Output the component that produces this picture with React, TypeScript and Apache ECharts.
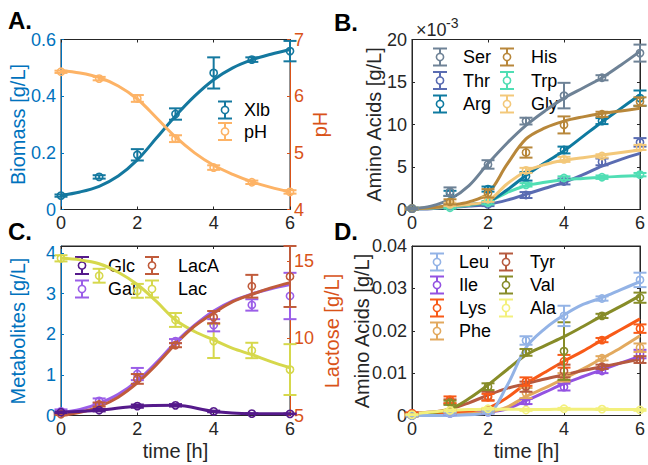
import React, { useEffect, useRef } from 'react';
import * as echarts from 'echarts';

// ---------- data ----------
const TIMES = [0, 1, 2, 3, 4, 5, 6];
const FIT_T = [0, 0.5, 1, 1.5, 2, 2.5, 3, 3.5, 4, 4.5, 5, 5.5, 6];

// Panel A
const XLB_MEAN = [0.049, 0.115, 0.193, 0.337, 0.482, 0.529, 0.559];
const XLB_ERR = [0.004, 0.006, 0.02, 0.02, 0.055, 0.008, 0.036];
const XLB_FIT = [0.05, 0.062, 0.082, 0.118, 0.175, 0.252, 0.33, 0.4, 0.458, 0.5, 0.528, 0.548, 0.565];
const PH_MEAN = [6.43, 6.31, 5.96, 5.25, 4.74, 4.48, 4.31];
const PH_ERR = [0.02, 0.03, 0.06, 0.06, 0.04, 0.03, 0.03];
const PH_FIT = [6.45, 6.41, 6.33, 6.18, 5.95, 5.62, 5.28, 5.0, 4.78, 4.62, 4.49, 4.39, 4.31];

// Panel B (x10^-3 g/L)
const SER_MEAN = [0.1, 2.1, 5.3, 10.4, 13.4, 15.5, 18.4];
const SER_ERR = [0.1, 0.5, 0.5, 0.4, 1.5, 0.3, 1.0];
const SER_FIT = [0.1, 0.4, 1.2, 2.8, 5.4, 7.8, 9.9, 11.6, 13.1, 14.3, 15.5, 17.0, 18.6];
const THR_MEAN = [0.1, 0.4, 0.6, 1.7, 3.3, 5.6, 7.9];
const THR_ERR = [0.1, 0.2, 0.2, 0.35, 0.35, 0.4, 0.5];
const THR_FIT = [0.05, 0.1, 0.25, 0.4, 0.6, 1.1, 1.8, 2.5, 3.2, 4.1, 5.1, 5.9, 6.6];
const ARG_MEAN = [0.1, 1.9, 2.4, 3.9, 7.0, 10.4, 13.1];
const ARG_ERR = [0.1, 0.3, 0.3, 0.5, 0.4, 0.35, 0.9];
const ARG_FIT = [0.1, 0.2, 0.4, 0.6, 0.9, 2.3, 4.0, 5.5, 6.9, 8.6, 10.3, 11.9, 13.5];
const HIS_MEAN = [0.1, 0.9, 1.9, 6.7, 9.95, 11.2, 12.7];
const HIS_ERR = [0.1, 0.3, 0.5, 0.6, 1.0, 0.3, 0.5];
const HIS_FIT = [0.1, 0.2, 0.5, 0.9, 1.9, 5.3, 8.3, 9.6, 10.4, 10.9, 11.3, 11.6, 11.9];
const TRP_MEAN = [0.1, 0.2, 0.8, 2.9, 3.7, 3.8, 4.1];
const TRP_ERR = [0.1, 0.1, 0.2, 0.2, 0.2, 0.2, 0.2];
const TRP_FIT = [0.1, 0.15, 0.3, 0.5, 0.9, 2.0, 2.8, 3.2, 3.5, 3.65, 3.8, 3.9, 4.0];
const GLY_MEAN = [0.1, 0.6, 1.2, 4.6, 5.9, 6.3, 7.3];
const GLY_ERR = [0.1, 0.2, 0.3, 0.3, 0.3, 0.2, 0.3];
const GLY_FIT = [0.1, 0.2, 0.4, 0.6, 1.0, 3.0, 4.5, 5.3, 5.8, 6.1, 6.4, 6.7, 7.0];

// Panel C
const GLC_MEAN = [0.08, 0.13, 0.23, 0.25, 0.1, 0.045, 0.04];
const GLC_ERR = [0.02, 0.03, 0.04, 0.03, 0.02, 0.01, 0.01];
const GAL_MEAN = [0.1, 0.36, 1.02, 1.83, 2.22, 2.72, 2.94];
const GAL_ERR = [0.05, 0.06, 0.15, 0.05, 0.15, 0.14, 0.57];
const GAL_FIT = [0.08, 0.15, 0.3, 0.52, 0.85, 1.3, 1.8, 2.22, 2.57, 2.82, 2.99, 3.12, 3.22];
const LACA_MEAN = [0.03, 0.27, 0.9, 1.73, 2.42, 3.18, 3.42];
const LACA_ERR = [0.02, 0.05, 0.12, 0.05, 0.15, 0.28, 0.75];
const LACA_FIT = [0.0, 0.08, 0.22, 0.45, 0.8, 1.25, 1.76, 2.2, 2.52, 2.8, 2.98, 3.14, 3.27];
const LAC_MEAN = [15.2, 14.07, 13.09, 11.2, 9.83, 9.22, 7.98];
const LAC_ERR = [0.2, 0.45, 0.45, 0.45, 1.1, 0.5, 1.65];
const LAC_FIT = [15.2, 15.1, 14.85, 14.3, 13.5, 12.4, 11.2, 10.45, 9.9, 9.35, 8.95, 8.5, 8.1];

// Panel D
const LEU_MEAN = [0, 0.0005, 0.0008, 0.0177, 0.0235, 0.0276, 0.032];
const LEU_ERR = [0.0002, 0.0003, 0.0003, 0.001, 0.0024, 0.0005, 0.0017];
const LEU_FIT = [0, 0, 0, 0.0002, 0.0006, 0.007, 0.016, 0.0205, 0.0237, 0.0262, 0.0278, 0.0297, 0.0316];
const ILE_MEAN = [0, 0.0005, 0.0008, 0.0033, 0.0067, 0.0105, 0.0145];
const ILE_ERR = [0.0002, 0.0003, 0.0003, 0.0006, 0.0008, 0.0005, 0.001];
const ILE_FIT = [0, 0.0001, 0.0003, 0.0005, 0.0008, 0.0016, 0.0035, 0.0055, 0.0075, 0.0092, 0.0108, 0.0124, 0.014];
const LYS_MEAN = [0.0005, 0.0037, 0.0043, 0.008, 0.0128, 0.0178, 0.0205];
const LYS_ERR = [0.0002, 0.0008, 0.0008, 0.001, 0.0015, 0.0005, 0.001];
const LYS_FIT = [0.0005, 0.0006, 0.0008, 0.0011, 0.0018, 0.0042, 0.0075, 0.0102, 0.0128, 0.0152, 0.0178, 0.0203, 0.0228];
const PHE_MEAN = [0, 0.001, 0.0012, 0.0053, 0.009, 0.0135, 0.016];
const PHE_ERR = [0.0002, 0.0003, 0.0004, 0.0012, 0.001, 0.0005, 0.001];
const PHE_FIT = [0, 0.0001, 0.0003, 0.0005, 0.0008, 0.002, 0.0045, 0.0065, 0.0087, 0.011, 0.0135, 0.016, 0.0188];
const TYR_MEAN = [0.0005, 0.0033, 0.0046, 0.0068, 0.0105, 0.0115, 0.0132];
const TYR_ERR = [0.0002, 0.0005, 0.001, 0.0012, 0.0015, 0.0005, 0.0008];
const TYR_FIT = [0.0005, 0.0008, 0.0015, 0.003, 0.0048, 0.0064, 0.0075, 0.0086, 0.0096, 0.0106, 0.0115, 0.0124, 0.0133];
const VAL_MEAN = [0, 0.003, 0.0068, 0.0149, 0.0152, 0.0235, 0.0278];
const VAL_ERR = [0.0002, 0.0005, 0.0008, 0.0008, 0.0068, 0.0005, 0.0012];
const VAL_FIT = [0, 0.0006, 0.0015, 0.004, 0.0072, 0.0108, 0.0143, 0.0165, 0.0186, 0.021, 0.0235, 0.0258, 0.0283];
const ALA_MEAN = [0.0002, 0.0012, 0.0016, 0.0013, 0.0016, 0.0015, 0.0013];
const ALA_ERR = [0.0001, 0.0002, 0.0002, 0.0002, 0.0002, 0.0002, 0.0002];
const ALA_FIT = [0.0003, 0.0008, 0.0012, 0.0014, 0.0015, 0.0015, 0.0014, 0.0014, 0.0015, 0.0015, 0.0014, 0.0014, 0.0014];

// ---------- style ----------
const FONT = '"Liberation Sans", Arial, Helvetica, sans-serif';
const AX = '#262626';
const BLUE = '#0072bd';
const ORANGE = '#d95319';

const COLORS: Record<string, string> = {
  Xlb: '#14789f', pH: '#fdb366',
  Ser: '#6e8296', Thr: '#5a6cb2', Arg: '#0e7aa0', His: '#b8873a', Trp: '#50deb4', Gly: '#f3c87a',
  Glc: '#551a8b', Gal: '#9b5ee8', LacA: '#c05b3b', Lac: '#d6d84c',
  Leu: '#93b3e6', Ile: '#9352e2', Lys: '#f85a18', Phe: '#e2a95e', Tyr: '#b65a3f', Val: '#878c28', Ala: '#f3f07c',
};

const GRIDS = [
  { left: 61, top: 39.5, width: 229, height: 170 },
  { left: 412, top: 39.5, width: 229, height: 170 },
  { left: 61, top: 246, width: 229, height: 169.5 },
  { left: 412, top: 246, width: 229, height: 169.5 },
];

// legend layout: [name, iconX, rowY, textX]
const LEGEND_LAYOUT: [string, number, number, number][] = [
  ['Xlb', 225, 110, 244], ['pH', 225, 131.5, 244],
  ['Ser', 440, 57, 463], ['Thr', 440, 80.5, 463], ['Arg', 440, 104, 463],
  ['His', 507, 57, 531], ['Trp', 507, 80.5, 531], ['Gly', 507, 104, 531],
  ['Glc', 82, 265.5, 108], ['Gal', 82, 289, 108], ['LacA', 152, 265.5, 178], ['Lac', 152, 289, 178],
  ['Leu', 437, 262, 459], ['Ile', 437, 285, 459], ['Lys', 437, 308, 459], ['Phe', 437, 331, 459],
  ['Tyr', 506, 262, 530], ['Val', 506, 285, 530], ['Ala', 506, 308, 530],
];

function xAx(gi: number, pos: 'bottom' | 'top') {
  return {
    type: 'value', gridIndex: gi, position: pos, min: 0, max: 6, interval: 2,
    axisLine: { show: true, onZero: false, lineStyle: { color: AX, width: 1 } },
    axisTick: { show: true, inside: true, length: 3, lineStyle: { color: AX } },
    axisLabel: { show: pos === 'bottom', fontSize: 18, fontFamily: FONT, color: AX, margin: 4 },
    splitLine: { show: false },
  };
}

function yAx(gi: number, pos: 'left' | 'right', min: number, max: number, interval: number, color: string, showLabel: boolean, showMaxLabel = true) {
  return {
    type: 'value', gridIndex: gi, position: pos, min, max, interval,
    axisLine: { show: true, onZero: false, lineStyle: { color, width: 1 } },
    axisTick: { show: true, inside: true, length: 3, lineStyle: { color } },
    axisLabel: { show: showLabel, fontSize: 18, fontFamily: FONT, color, margin: pos === 'left' ? 5 : 4, showMaxLabel },
    splitLine: { show: false },
  };
}

function errSeries(name: string, ys: number[], errs: number[], xi: number, yi: number) {
  const color = COLORS[name];
  return {
    type: 'custom', name, xAxisIndex: xi, yAxisIndex: yi, clip: false, z: 4, silent: true,
    data: TIMES.map((t, i) => [t, ys[i], errs[i]]),
    renderItem: (_p: any, api: any) => {
      const x = api.value(0), y = api.value(1), e = api.value(2);
      const c = api.coord([x, y]);
      const hi = api.coord([x, y + e]);
      const lo = api.coord([x, y - e]);
      const st = { stroke: color, lineWidth: 2, fill: 'none' };
      const w = 6.5;
      return {
        type: 'group',
        children: [
          { type: 'line', shape: { x1: c[0], y1: hi[1], x2: c[0], y2: lo[1] }, style: st },
          { type: 'line', shape: { x1: c[0] - w, y1: hi[1], x2: c[0] + w, y2: hi[1] }, style: st },
          { type: 'line', shape: { x1: c[0] - w, y1: lo[1], x2: c[0] + w, y2: lo[1] }, style: st },
          { type: 'circle', shape: { cx: c[0], cy: c[1], r: 3.6 }, style: { stroke: color, lineWidth: 1.6, fill: 'none' } },
        ],
      };
    },
  };
}

function fitSeries(name: string, vals: number[], xi: number, yi: number, xs: number[] = FIT_T) {
  const color = COLORS[name];
  return {
    type: 'line', name: name + ' fit', xAxisIndex: xi, yAxisIndex: yi,
    data: xs.map((t, i) => [t, vals[i]]),
    smooth: 0.35, showSymbol: false, symbol: 'none', silent: true, z: 3,
    lineStyle: { color, width: 3 }, itemStyle: { color },
  };
}

function txt(text: string, x: number, y: number, opts: any = {}) {
  const align = opts.align || 'center';
  return {
    type: 'text', x, y, rotation: opts.rotation || 0, silent: true,
    style: {
      text, fill: opts.color || AX, fontSize: opts.fontSize || 20, fontFamily: FONT,
      fontWeight: opts.fontWeight || 'normal',
      align, textAlign: align, verticalAlign: 'middle', textVerticalAlign: 'middle',
    },
  };
}

function legendEntry(name: string, ix: number, y: number, tx: number) {
  const color = COLORS[name];
  const st = { stroke: color, lineWidth: 2, fill: 'none' };
  const h = 8.5, w = 7;
  return [
    { type: 'line', silent: true, shape: { x1: ix, y1: y - h, x2: ix, y2: y + h }, style: st },
    { type: 'line', silent: true, shape: { x1: ix - w, y1: y - h, x2: ix + w, y2: y - h }, style: st },
    { type: 'line', silent: true, shape: { x1: ix - w, y1: y + h, x2: ix + w, y2: y + h }, style: st },
    { type: 'circle', silent: true, shape: { cx: ix, cy: y, r: 3.6 }, style: { stroke: color, lineWidth: 1.6, fill: '#fff' } },
    txt(name, tx, y, { align: 'left', fontSize: 18, color: '#000' }),
  ];
}

function buildOption() {
  const graphics: any[] = [];
  LEGEND_LAYOUT.forEach(([n, ix, y, tx]) => graphics.push(...legendEntry(n, ix, y, tx)));
  const R = Math.PI / 2;
  graphics.push(
    txt('A.', 8, 20, { align: 'left', fontSize: 24, fontWeight: 'bold', color: '#000' }),
    txt('B.', 334, 22, { align: 'left', fontSize: 24, fontWeight: 'bold', color: '#000' }),
    txt('C.', 8, 231, { align: 'left', fontSize: 24, fontWeight: 'bold', color: '#000' }),
    txt('D.', 334, 231, { align: 'left', fontSize: 24, fontWeight: 'bold', color: '#000' }),
    txt('Biomass [g/L]', 17.5, 124.5, { rotation: R, color: BLUE }),
    txt('pH', 320, 124.5, { rotation: R, color: ORANGE }),
    txt('Amino Acids [g/L]', 374, 124.5, { rotation: R }),
    txt('Metabolites [g/L]', 17.5, 331, { rotation: R, color: BLUE }),
    txt('Lactose [g/L]', 332, 331, { rotation: R, color: ORANGE }),
    txt('Amino Acids [g/L]', 362, 331, { rotation: R }),
    txt('time [h]', 175.5, 451, {}),
    txt('time [h]', 526.5, 451, {}),
    txt('\u00d710', 416, 30, { align: 'left', fontSize: 18 }),
    txt('-3', 446, 23, { align: 'left', fontSize: 14 }),
  );

  return {
    animation: false,
    backgroundColor: '#ffffff',
    textStyle: { fontFamily: FONT },
    grid: GRIDS.map((g) => ({ ...g, show: true, borderColor: AX, borderWidth: 1, backgroundColor: 'transparent', containLabel: false })),
    xAxis: [xAx(0, 'bottom'), xAx(1, 'bottom'), xAx(2, 'bottom'), xAx(3, 'bottom'), xAx(0, 'top'), xAx(1, 'top'), xAx(2, 'top'), xAx(3, 'top')],
    yAxis: [
      yAx(0, 'left', 0, 0.6, 0.2, BLUE, true),
      yAx(0, 'right', 4, 7, 1, ORANGE, true),
      yAx(1, 'left', 0, 20, 5, AX, true),
      yAx(1, 'right', 0, 20, 5, AX, false),
      yAx(2, 'left', 0, 4.17, 1, BLUE, true, false),
      yAx(2, 'right', 5, 16, 5, ORANGE, true, false),
      yAx(3, 'left', 0, 0.04, 0.01, AX, true),
      yAx(3, 'right', 0, 0.04, 0.01, AX, false),
    ],
    series: [
      // A
      fitSeries('Xlb', XLB_FIT, 0, 0), fitSeries('pH', PH_FIT, 0, 1),
      errSeries('Xlb', XLB_MEAN, XLB_ERR, 0, 0), errSeries('pH', PH_MEAN, PH_ERR, 0, 1),
      // B
      fitSeries('Thr', THR_FIT, 1, 2), fitSeries('Trp', TRP_FIT, 1, 2), fitSeries('Arg', ARG_FIT, 1, 2),
      fitSeries('Gly', GLY_FIT, 1, 2), fitSeries('His', HIS_FIT, 1, 2), fitSeries('Ser', SER_FIT, 1, 2),
      errSeries('Thr', THR_MEAN, THR_ERR, 1, 2), errSeries('Trp', TRP_MEAN, TRP_ERR, 1, 2),
      errSeries('Arg', ARG_MEAN, ARG_ERR, 1, 2), errSeries('Gly', GLY_MEAN, GLY_ERR, 1, 2),
      errSeries('His', HIS_MEAN, HIS_ERR, 1, 2), errSeries('Ser', SER_MEAN, SER_ERR, 1, 2),
      // C
      fitSeries('Lac', LAC_FIT, 2, 5), fitSeries('Gal', GAL_FIT, 2, 4), fitSeries('LacA', LACA_FIT, 2, 4),
      fitSeries('Glc', GLC_MEAN, 2, 4, TIMES),
      errSeries('Lac', LAC_MEAN, LAC_ERR, 2, 5), errSeries('Gal', GAL_MEAN, GAL_ERR, 2, 4),
      errSeries('LacA', LACA_MEAN, LACA_ERR, 2, 4), errSeries('Glc', GLC_MEAN, GLC_ERR, 2, 4),
      // D
      fitSeries('Ile', ILE_FIT, 3, 6), fitSeries('Phe', PHE_FIT, 3, 6), fitSeries('Tyr', TYR_FIT, 3, 6),
      fitSeries('Lys', LYS_FIT, 3, 6), fitSeries('Val', VAL_FIT, 3, 6), fitSeries('Leu', LEU_FIT, 3, 6),
      fitSeries('Ala', ALA_FIT, 3, 6),
      errSeries('Ile', ILE_MEAN, ILE_ERR, 3, 6), errSeries('Phe', PHE_MEAN, PHE_ERR, 3, 6),
      errSeries('Tyr', TYR_MEAN, TYR_ERR, 3, 6), errSeries('Lys', LYS_MEAN, LYS_ERR, 3, 6),
      errSeries('Val', VAL_MEAN, VAL_ERR, 3, 6), errSeries('Leu', LEU_MEAN, LEU_ERR, 3, 6),
      errSeries('Ala', ALA_MEAN, ALA_ERR, 3, 6),
    ],
    graphic: { elements: graphics },
  };
}

export default function App() {
  const ref = useRef<HTMLDivElement>(null);
  useEffect(() => {
    if (!ref.current) return;
    const chart = echarts.init(ref.current, null, { renderer: 'svg' });
    chart.setOption(buildOption() as any);
    return () => chart.dispose();
  }, []);
  return <div ref={ref} style={{ position: 'fixed', left: 0, top: 0, width: 648, height: 465, background: '#fff' }} />;
}
